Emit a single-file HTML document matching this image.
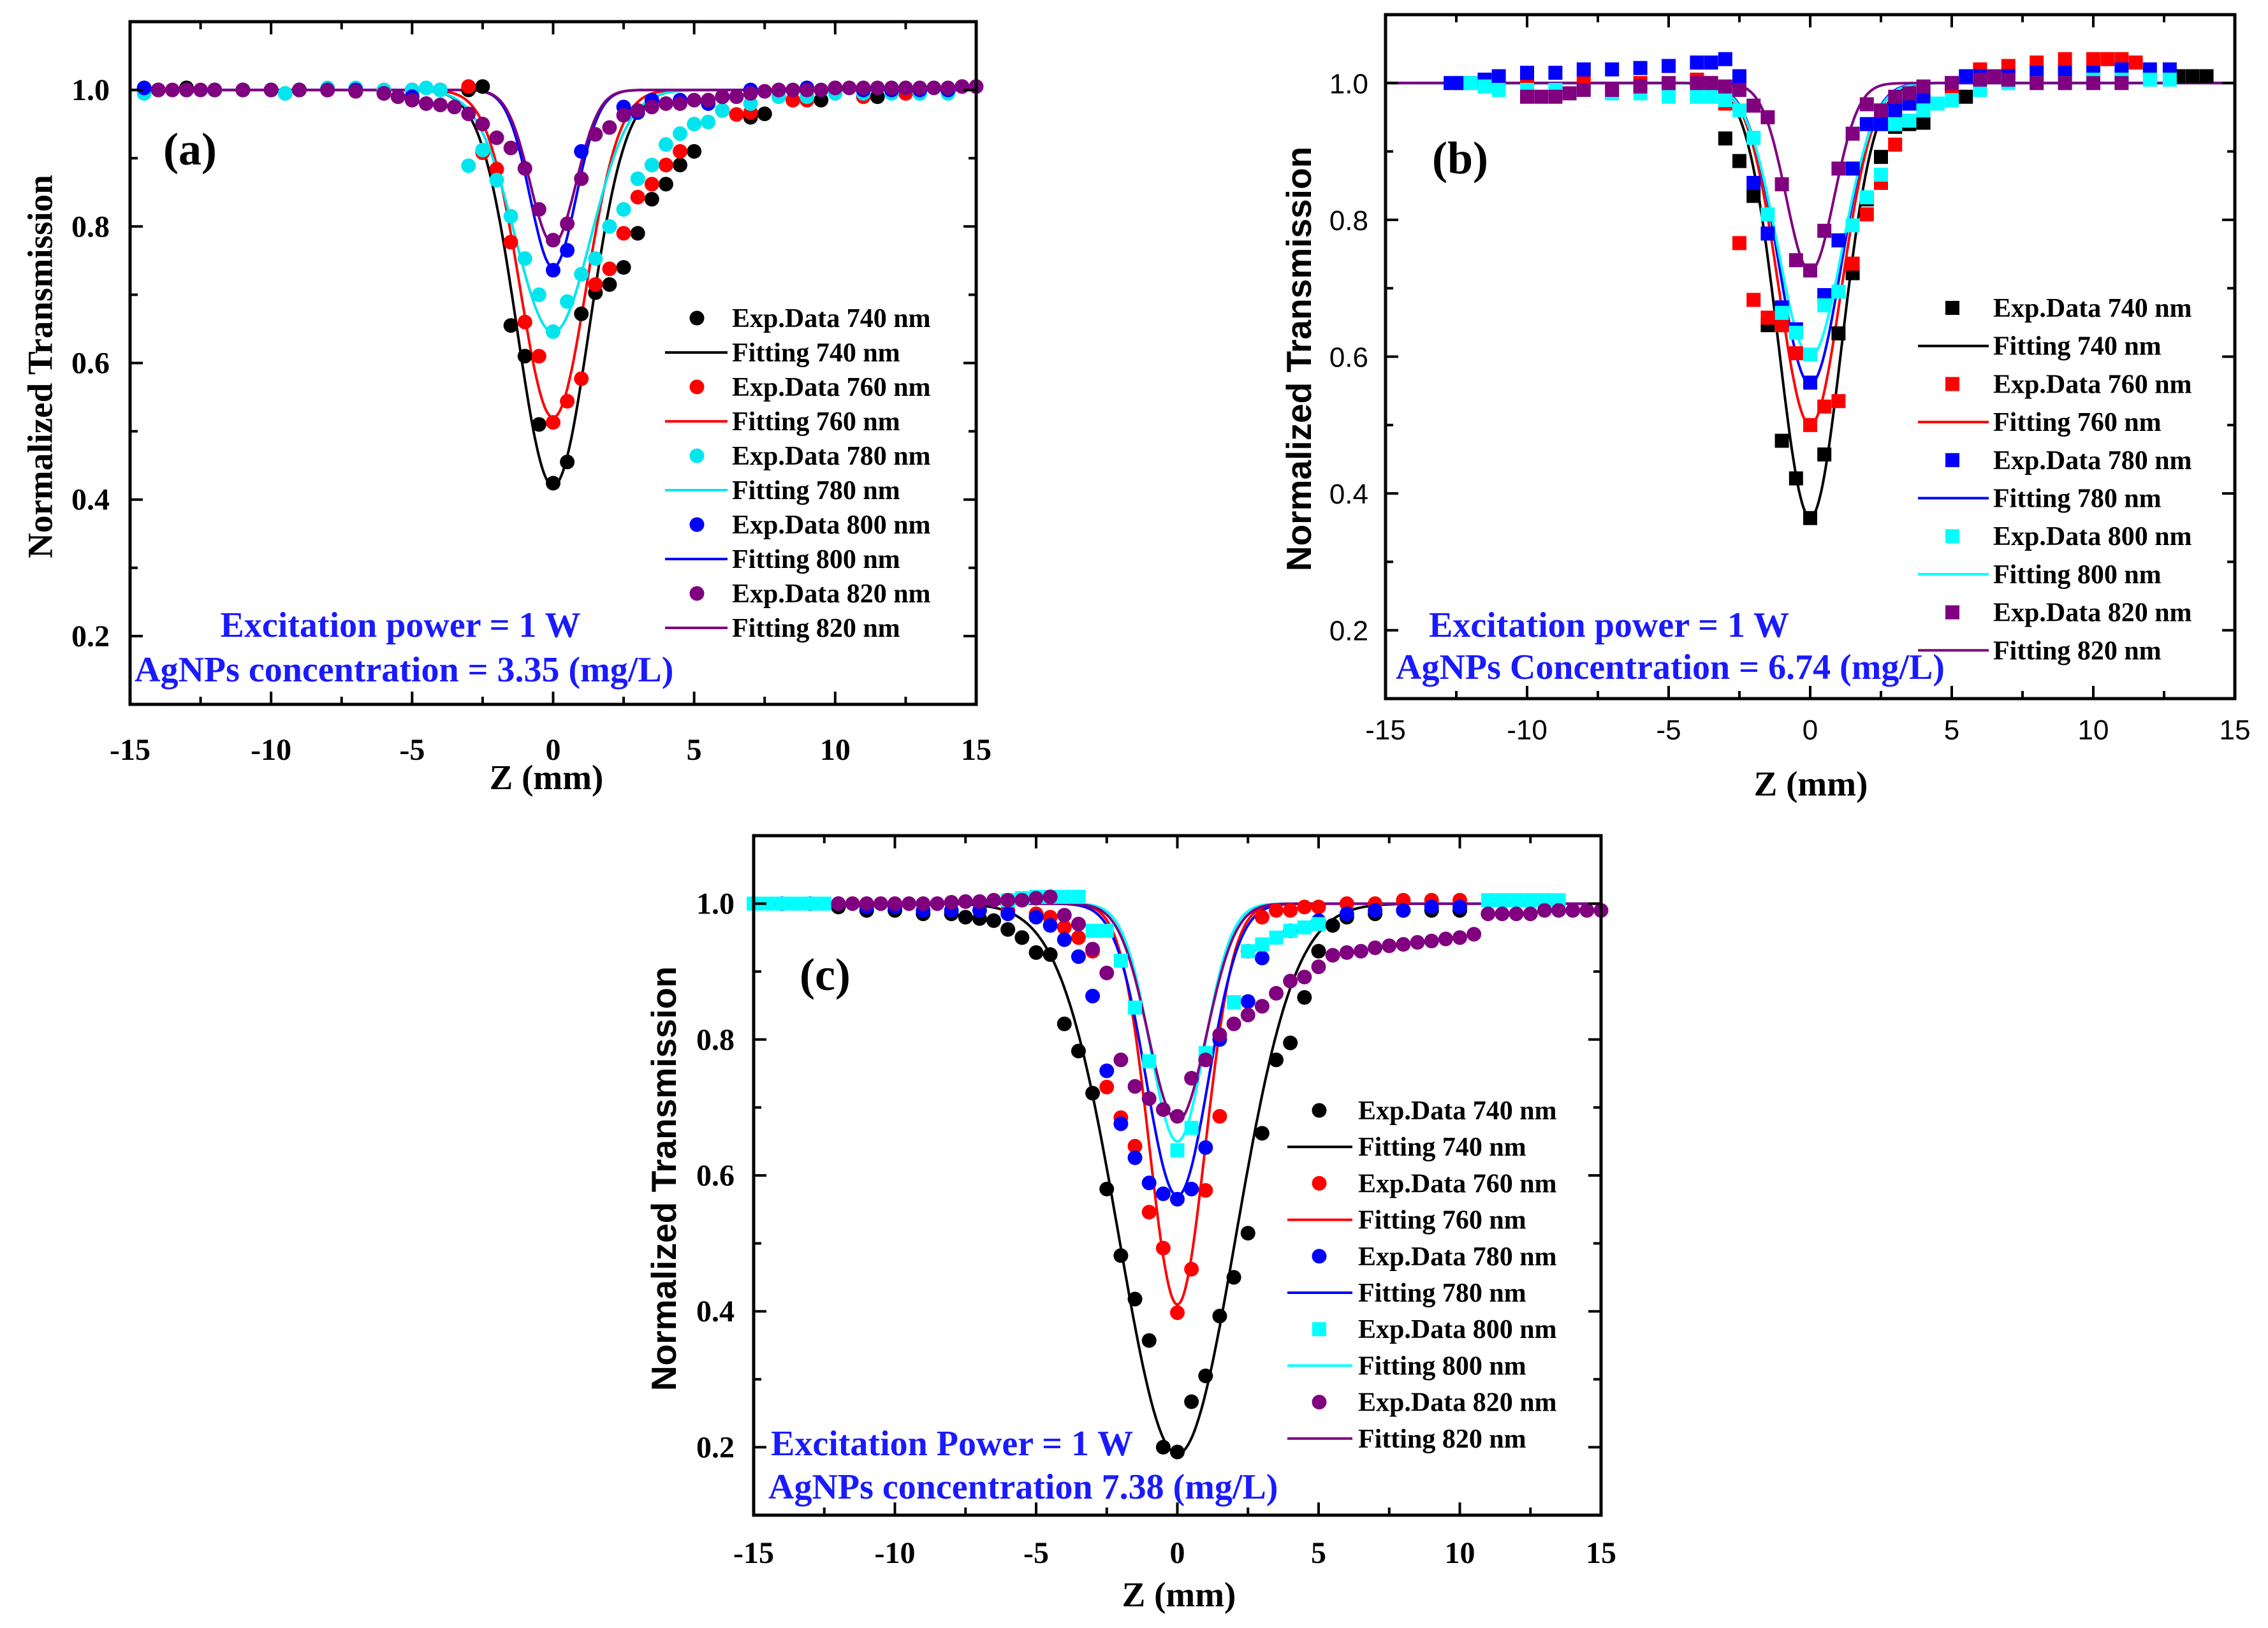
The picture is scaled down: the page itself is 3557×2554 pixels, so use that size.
<!DOCTYPE html>
<html><head><meta charset="utf-8"><style>
html,body{margin:0;padding:0;background:#fff;}
svg{display:block;}
</style></head><body>
<svg id="fig" xmlns="http://www.w3.org/2000/svg" width="3557" height="2554" viewBox="0 0 3557 2554"></svg>
<script>
// ---------- Data ----------
const seriesNames = ["740 nm","760 nm","780 nm","800 nm","820 nm"];
const seriesColors = ["#000000","#ff0000","#00e5ee","#0000ff","#800080"];
const seriesColorsB = ["#000000","#ff0000","#0000ff","#00ffff","#800080"];
const xTicks = [-15,-10,-5,0,5,10,15];
const yTicks = [0.2,0.4,0.6,0.8,1.0];
const yTickLabels = ["0.2","0.4","0.6","0.8","1.0"];

// Panel (a)
const aZ740 = [-14,-13,-12,-11,-10,-9,-8,-7,-6,-5,-4,-3,-2.5,-1.5,-1,-0.5,0,0.5,1,1.5,2,2.5,3,3.5,4,4.5,5,7,7.5,9.5,11.5,13,14];
const aT740 = [1,1.003,1,1,1,1,1,1,0.998,1,1,1,1.005,0.655,0.61,0.51,0.424,0.455,0.672,0.703,0.715,0.74,0.79,0.84,0.862,0.89,0.91,0.96,0.965,0.985,0.99,0.995,0.997];
const aZ760 = [-14,-13,-12,-11,-10,-9,-8,-7,-6,-5,-4,-3,-2.5,-2,-1.5,-1,-0.5,0,0.5,1,1.5,2,2.5,3,3.5,4,4.5,6,6.5,7,8.5,9,11,12.5,14];
const aT760 = [1,1,1,1,1,1,1,1,1,1,1,1.005,0.908,0.884,0.777,0.66,0.61,0.513,0.544,0.577,0.715,0.738,0.79,0.843,0.862,0.89,0.91,0.97,0.964,0.967,0.985,0.985,0.99,0.995,1];
const aZ780 = [-14.5,-13,-12,-11,-10,-9.5,-9,-8,-7,-6,-5,-4.5,-4,-3,-2.5,-2,-1.5,-1,-0.5,0,0.5,1,1.5,2,2.5,3,3.5,4,4.5,5,5.5,6,7,8,9,10,11,12,13,14];
const aT780 = [0.995,1,1,1,1,0.995,1,1.003,1.003,1,1,1.003,1,0.889,0.912,0.868,0.815,0.753,0.70,0.646,0.69,0.73,0.753,0.80,0.825,0.87,0.89,0.92,0.936,0.95,0.953,0.97,0.98,0.99,0.99,0.995,0.995,0.995,0.995,0.995];
const aZ800 = [-14.5,-14,-13,-12,-11,-10,-9,-8,-7,-6,-5,0,0.5,1,2.5,3,3.5,4.5,5.5,6,7,8,9,10,11,12,13,14];
const aT800 = [1.003,1,1,1,1,1,1,1,1,0.995,0.99,0.736,0.765,0.91,0.975,0.967,0.985,0.985,0.98,0.99,1.0,1.0,1.003,1.003,1,1,1,1];
const aZ820 = [-14,-13.5,-13,-12.5,-12,-11,-10,-9,-8,-7,-6,-5.5,-5,-4.5,-4,-3.5,-3,-2.5,-2,-1.5,-1,-0.5,0,0.5,1,1.5,2,2.5,3,3.5,4,4.5,5,5.5,6,6.5,7,7.5,8,8.5,9,9.5,10,10.5,11,11.5,12,12.5,13,13.5,14,14.5,15];
const aT820 = [1,1,1,1,1,1,1,1,1,0.998,0.995,0.99,0.985,0.98,0.978,0.975,0.965,0.95,0.93,0.915,0.885,0.825,0.78,0.804,0.87,0.935,0.945,0.963,0.97,0.975,0.98,0.98,0.985,0.985,0.99,0.99,0.995,0.998,1,1,1,1,1.003,1.003,1.003,1.003,1.003,1.003,1.003,1.003,1.003,1.005,1.005];
const aFitDepth = [0.58,0.48,0.355,0.26,0.225];
const aFitWidth = [1.8,1.65,1.9,1.15,1.15];

// Panel (b)
const bZ740 = [-3,-2.5,-2,-1.5,-1,-0.5,0,0.5,1,1.5,2,2.5,3,3.5,4,5,5.5,13,13.5,14];
const bT740 = [0.919,0.886,0.835,0.646,0.477,0.422,0.364,0.457,0.634,0.722,0.83,0.892,0.936,0.94,0.942,0.975,0.98,1.01,1.01,1.01];
const bZ760 = [-12,-10,-8,-6,-4,-3.5,-3,-2.5,-2,-1.5,-1,-0.5,0,0.5,1,1.5,2,2.5,3,4,5,6,7,8,9,10,10.5,11,11.5];
const bT760 = [1,1,1,1,1.005,1.0,0.97,0.766,0.683,0.657,0.646,0.605,0.50,0.527,0.535,0.736,0.808,0.854,0.91,0.96,0.99,1.02,1.025,1.03,1.035,1.035,1.035,1.035,1.03];
const bZ780 = [-12.7,-12.3,-11.5,-11,-10,-9,-8,-7,-6,-5,-4,-3.5,-3,-2.5,-2,-1.5,-1,-0.5,0,0.5,1,1.5,2,2.5,3,3.5,4,5,5.5,6,7,8,9,10,11,12,12.7];
const bT780 = [1,1,1.005,1.01,1.015,1.015,1.02,1.02,1.022,1.025,1.03,1.03,1.035,1.01,0.854,0.78,0.672,0.64,0.562,0.69,0.77,0.875,0.94,0.94,0.96,0.97,0.98,1.0,1.01,1.01,1.01,1.015,1.015,1.015,1.02,1.02,1.02];
const bZ800 = [-12,-11.5,-11,-10,-9,-8,-7,-6,-5,-4,-3.5,-3,-2.5,-2,-1.5,-1,-0.5,0,0.5,1,1.5,2,2.5,3,3.5,4,4.5,5,6,7,8,9,10,11,12,12.7];
const bT800 = [1,0.995,0.99,0.99,0.99,0.99,0.985,0.985,0.98,0.98,0.98,0.975,0.96,0.92,0.808,0.664,0.635,0.603,0.675,0.695,0.792,0.833,0.866,0.94,0.945,0.96,0.97,0.975,0.99,1.0,1.0,1.0,1.005,1.005,1.005,1.005];
const bZ820 = [-10,-9.5,-9,-8.5,-8,-7,-6,-5,-4,-3.5,-3,-2.5,-2,-1.5,-1,-0.5,0,0.5,1,1.5,2,2.5,3,3.5,4,5,6,6.5,7,8,9,10,11];
const bT820 = [0.98,0.98,0.98,0.985,0.99,0.99,0.995,1.0,1.0,1.0,0.995,0.99,0.967,0.95,0.852,0.741,0.726,0.784,0.875,0.926,0.969,0.96,0.98,0.985,0.995,1.0,1.005,1.01,1.005,1.0,1.0,1.0,1.0];
const bFitDepth = [0.635,0.50,0.44,0.40,0.275];
const bFitWidth = [1.57,1.55,1.55,1.6,1.2];

// Panel (c)
const cZ740 = [-12,-11,-10,-9,-8,-7.5,-7,-6.5,-6,-5.5,-5,-4.5,-4,-3.5,-3,-2.5,-2,-1.5,-1,-0.5,0,0.5,1,1.5,2,2.5,3,3.5,4,4.5,5,5.5,6,7,8,9,10];
const cT740 = [0.995,0.99,0.99,0.985,0.985,0.98,0.978,0.975,0.962,0.95,0.928,0.925,0.823,0.783,0.721,0.58,0.482,0.418,0.357,0.20,0.193,0.267,0.305,0.393,0.45,0.515,0.662,0.77,0.795,0.862,0.93,0.968,0.98,0.985,0.99,0.99,0.99];
const cZ760 = [-6,-5,-4.5,-4,-3.5,-3,-2.5,-2,-1.5,-1,-0.5,0,0.5,1,1.5,2.5,3,3.5,4,4.5,5,6,7,8,9,10];
const cT760 = [0.99,0.985,0.98,0.965,0.95,0.93,0.73,0.685,0.643,0.546,0.493,0.398,0.462,0.578,0.687,0.93,0.98,0.99,0.99,0.995,0.995,1.0,1.0,1.005,1.005,1.005];
const cZ780 = [-14,-13,-12,-11,-10,-9,-8,-7,-6,-5,-4.5,-4,-3.5,-3,-2.5,-2,-1.5,-1,-0.5,0,0.5,1,1.5,2.5,3,4,5,6,7,8,9,10];
const cT780 = [1,1,1,0.995,0.995,0.99,0.99,0.99,0.985,0.98,0.968,0.947,0.922,0.864,0.754,0.676,0.626,0.589,0.573,0.565,0.58,0.641,0.80,0.856,0.92,0.96,0.975,0.985,0.99,0.99,0.995,0.995];
const cZ800 = [-15,-14.5,-14,-13.5,-13,-12.5,-6,-5.5,-5,-4.5,-4,-3.5,-3,-2.5,-2,-1.5,-1,0,0.5,1,2,2.5,3,3.5,4,4.5,5,11,11.5,12,12.5,13,13.5];
const cT800 = [1,1,1,1,1,1,1.005,1.008,1.01,1.01,1.01,1.01,0.96,0.96,0.916,0.847,0.768,0.637,0.67,0.78,0.855,0.93,0.94,0.95,0.96,0.965,0.97,1.005,1.005,1.005,1.005,1.005,1.005];
const cZ820 = [-12,-11.5,-11,-10.5,-10,-9.5,-9,-8.5,-8,-7.5,-7,-6.5,-6,-5.5,-5,-4.5,-4,-3.5,-3,-2.5,-2,-1.5,-1,-0.5,0,0.5,1,1.5,2,2.5,3,3.5,4,4.5,5,5.5,6,6.5,7,7.5,8,8.5,9,9.5,10,10.5,11,11.5,12,12.5,13,13.5,14,14.5,15];
const cT820 = [1,1,1,1,1,1,1,1,1.002,1.003,1.003,1.005,1.005,1.005,1.008,1.01,0.983,0.97,0.933,0.898,0.77,0.731,0.713,0.697,0.687,0.743,0.77,0.807,0.823,0.836,0.849,0.868,0.886,0.892,0.907,0.924,0.928,0.93,0.935,0.938,0.94,0.943,0.945,0.948,0.95,0.955,0.985,0.985,0.985,0.985,0.99,0.99,0.99,0.99,0.99];
const cFitDepth = [0.81,0.59,0.43,0.35,0.32];
const cFitWidth = [2.92,1.4,1.55,1.35,1.45];

// ---------- Rendering ----------
const NS = "http://www.w3.org/2000/svg";
const svg = document.getElementById("fig");
function mk(tag, attrs, parent){
  const e = document.createElementNS(NS, tag);
  for (const k in attrs) e.setAttribute(k, attrs[k]);
  (parent||svg).appendChild(e);
  return e;
}
const TIMES = "'Liberation Serif', serif";
const ARIAL = "'Liberation Sans', sans-serif";

const panels = [
  {id:"a", L:204, R:1531, T:34, B:1105, zs:[aZ740,aZ760,aZ780,aZ800,aZ820], ts:[aT740,aT760,aT780,aT800,aT820],
   depth:aFitDepth, width:aFitWidth, colors:seriesColors, shapes:["c","c","c","c","c"],
   tickFont:TIMES, tickWeight:"bold", tickSize:48, yTitleFont:TIMES, ytx:63, yty:575, xtx:857, xty:1238, ylabR:172, xlabY:1192,
   label:"(a)", lx:256, ly:258, legM:1093, legL1:1043, legL2:1141, legT:1148, legY:499, legStep:54,
   ann1:"Excitation power = 1 W", a1x:628, a1y:999, a1anchor:"middle", ann2:"AgNPs concentration = 3.35 (mg/L)", a2x:211, a2y:1069},
  {id:"b", L:2173, R:3505, T:23, B:1096, zs:[bZ740,bZ760,bZ780,bZ800,bZ820], ts:[bT740,bT760,bT780,bT800,bT820],
   depth:bFitDepth, width:bFitWidth, colors:seriesColorsB, shapes:["s","s","s","s","s"],
   tickFont:ARIAL, tickWeight:"normal", tickSize:44, yTitleFont:ARIAL, ytx:2037, yty:563, xtx:2840, xty:1248, ylabR:2146, xlabY:1160,
   label:"(b)", lx:2246, ly:272, legM:3062, legL1:3008, legL2:3119, legT:3126, legY:483, legStep:59.7,
   ann1:"Excitation power = 1 W", a1x:2241, a1y:999, a1anchor:"start", ann2:"AgNPs Concentration = 6.74 (mg/L)", a2x:2189, a2y:1065},
  {id:"c", L:1182, R:2511, T:1311, B:2377, zs:[cZ740,cZ760,cZ780,cZ800,cZ820], ts:[cT740,cT760,cT780,cT800,cT820],
   depth:cFitDepth, width:cFitWidth, colors:seriesColorsB, shapes:["c","c","c","s","c"],
   tickFont:TIMES, tickWeight:"bold", tickSize:48, yTitleFont:ARIAL, ytx:1041, yty:1849, xtx:1849, xty:2520, ylabR:1152, xlabY:2452,
   label:"(c)", lx:1254, ly:1553, legM:2069, legL1:2019, legL2:2121, legT:2130, legY:1742, legStep:57.2,
   ann1:"Excitation Power = 1 W", a1x:1209, a1y:2283, a1anchor:"start", ann2:"AgNPs concentration 7.38 (mg/L)", a2x:1205, a2y:2351}
];

panels.forEach(p => {
  const yMin = 0.1, yMax = 1.1;
  const xs = z => p.L + (z + 15) / 30 * (p.R - p.L);
  const ys = t => p.B - (t - yMin) / (yMax - yMin) * (p.B - p.T);
  const g = mk("g", {});
  
  

  const clipId = "clip-" + p.id;
  const cp = mk("clipPath", {id: clipId}, g);
  mk("rect", {x:p.L, y:p.T, width:p.R-p.L, height:p.B-p.T}, cp);

  // fits
  const fitG = mk("g", {"clip-path":"url(#"+clipId+")"}, g);
  p.depth.forEach((d, i) => {
    const pts = [];
    for (let k = 0; k <= 600; k++) {
      const z = -15 + k * 0.05;
      const t = 1 - d * Math.exp(-Math.pow(z / p.width[i], 2));
      pts.push(xs(z).toFixed(1) + "," + ys(t).toFixed(1));
    }
    const fl = mk("polyline", {points: pts.join(" "), fill:"none", stroke:p.colors[i], "stroke-width":4}, fitG);
    
    
  });

  // data markers
  const datG = mk("g", {}, g);
  p.zs.forEach((zArr, i) => {
    const tArr = p.ts[i];
    const n = Math.min(zArr.length, tArr.length);
    for (let k = 0; k < n; k++) {
      const cx = xs(zArr[k]), cy = ys(tArr[k]);
      let m;
      if (p.shapes[i] === "s") m = mk("rect", {x:cx-11, y:cy-11, width:22, height:22, fill:p.colors[i]}, datG);
      else m = mk("circle", {cx:cx, cy:cy, r:11.5, fill:p.colors[i]}, datG);
      
      
    }
  });

  // frame
  const fr = mk("rect", {x:p.L, y:p.T, width:p.R-p.L, height:p.B-p.T, fill:"none", stroke:"#000", "stroke-width":5}, g);
  
  

  // x ticks
  for (let k = 0; k <= 12; k++) {
    const z = -15 + k * 2.5;
    const major = (k % 2 === 0);
    const len = major ? 20 : 12;
    const x = xs(z);
    mk("line", {x1:x, y1:p.B, x2:x, y2:p.B-len, stroke:"#000", "stroke-width":4}, g);
    mk("line", {x1:x, y1:p.T, x2:x, y2:p.T+len, stroke:"#000", "stroke-width":4}, g);
  }
  xTicks.forEach(z => {
    const t = mk("text", {x:xs(z), y:p.xlabY, "text-anchor":"middle", "font-family":p.tickFont, "font-weight":p.tickWeight, "font-size":p.tickSize, fill:"#000"}, g);
    t.textContent = String(z);
    
    
  });
  // y ticks
  for (let k = 1; k <= 10; k++) {
    const v = k / 10;
    const major = (k % 2 === 0);
    const len = major ? 20 : 12;
    const y = ys(v);
    mk("line", {x1:p.L, y1:y, x2:p.L+len, y2:y, stroke:"#000", "stroke-width":4}, g);
    mk("line", {x1:p.R, y1:y, x2:p.R-len, y2:y, stroke:"#000", "stroke-width":4}, g);
  }
  yTicks.forEach((v, i) => {
    const t = mk("text", {x:p.ylabR, y:ys(v)+16, "text-anchor":"end", "font-family":p.tickFont, "font-weight":p.tickWeight, "font-size":p.tickSize, fill:"#000"}, g);
    t.textContent = yTickLabels[i];
    
    
  });

  // axis titles
  const yt = mk("text", {x:p.ytx, y:p.yty, transform:"rotate(-90 "+p.ytx+" "+p.yty+")", "text-anchor":"middle", "dominant-baseline":"central", "font-family":p.yTitleFont, "font-weight":"bold", "font-size":55, fill:"#000"}, g);
  yt.textContent = "Normalized Transmission";
  
  
  const xt = mk("text", {x:p.xtx, y:p.xty, "text-anchor":"middle", "font-family":TIMES, "font-weight":"bold", "font-size":55, fill:"#000"}, g);
  xt.textContent = "Z (mm)";
  
  

  // panel label
  const plab = mk("text", {x:p.lx, y:p.ly, "font-family":TIMES, "font-weight":"bold", "font-size":72, fill:"#000"}, g);
  plab.textContent = p.label;
  
  

  // annotations
  const an1 = mk("text", {x:p.a1x, y:p.a1y, "text-anchor":p.a1anchor, "font-family":TIMES, "font-weight":"bold", "font-size":56, fill:"#1a1aff"}, g);
  an1.textContent = p.ann1;
  
  
  const an2 = mk("text", {x:p.a2x, y:p.a2y, "font-family":TIMES, "font-weight":"bold", "font-size":56, fill:"#1a1aff"}, g);
  an2.textContent = p.ann2;
  
  

  // legend
  const lg = mk("g", {}, g);
  
  
  seriesNames.forEach((nm, i) => {
    const y1 = p.legY + 2*i*p.legStep, y2 = y1 + p.legStep;
    let m;
    if (p.shapes[i] === "s") m = mk("rect", {x:p.legM-11, y:y1-11, width:22, height:22, fill:p.colors[i]}, lg);
    else m = mk("circle", {cx:p.legM, cy:y1, r:11.5, fill:p.colors[i]}, lg);
    
    
    const t1 = mk("text", {x:p.legT, y:y1+14, "font-family":TIMES, "font-weight":"bold", "font-size":42, fill:"#000"}, lg);
    t1.textContent = "Exp.Data " + nm;
    
    
    const ln = mk("line", {x1:p.legL1, y1:y2, x2:p.legL2, y2:y2, stroke:p.colors[i], "stroke-width":4}, lg);
    
    
    const t2 = mk("text", {x:p.legT, y:y2+14, "font-family":TIMES, "font-weight":"bold", "font-size":42, fill:"#000"}, lg);
    t2.textContent = "Fitting " + nm;
    
    
  });
});
</script>
</body></html>
